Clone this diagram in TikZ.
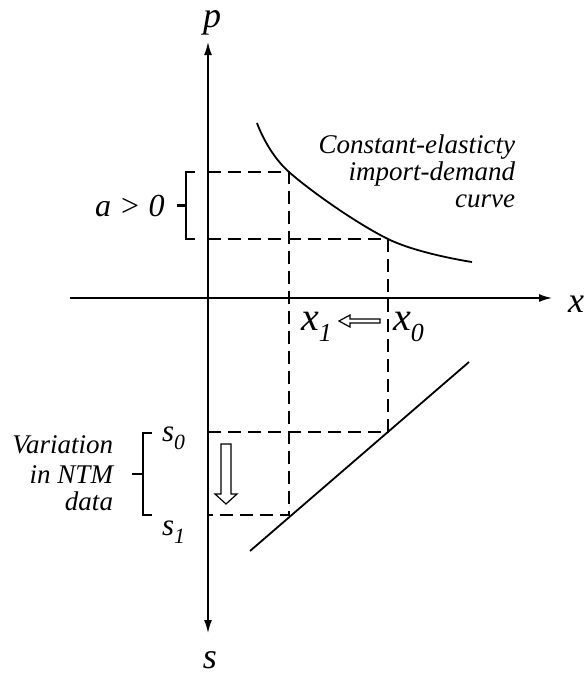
\documentclass[tikz,border=0pt]{standalone}
\usepackage{fontspec}
\setmainfont{Liberation Serif}
\usetikzlibrary{arrows.meta}
\newcommand\lowsub[2][0.6]{\raisebox{-0.28em}{\scalebox{#1}{#2}}}
\newcommand\fs[1]{\fontsize{#1}{#1}\selectfont}
\begin{document}
\begin{tikzpicture}[x=1pt,y=-1pt,
  axisline/.style={line width=1.6pt,{Latex[length=13pt,width=8pt]}-{Latex[length=13pt,width=8pt]}},
  axisx/.style={line width=1.6pt,-{Latex[length=13pt,width=8pt]}},
  guide/.style={line width=2.4pt,dash pattern=on 13pt off 7pt},
  curveline/.style={line width=1.8pt},
  bracketline/.style={line width=2.2pt},
  hollow/.style={line width=1.2pt,fill=white},
  lbl/.style={inner sep=0pt,outer sep=0pt,font=\itshape},
]
\useasboundingbox (0,0) rectangle (587,675);
% axes
\coordinate (O) at (208,298);
\coordinate (ytop) at (208,42);
\coordinate (ybot) at (208,633);
\coordinate (xleft) at (70,298);
\coordinate (xright) at (552,298);
\draw[axisline] (ytop) -- (ybot);
\draw[axisx] (xleft) -- (xright);
% guide corners
\coordinate (A) at (208,172);
\coordinate (P1) at (289,172);
\coordinate (B) at (208,239);
\coordinate (P0) at (388,239);
\coordinate (S0) at (208,432);
\coordinate (Q0) at (388,432);
\coordinate (S1) at (208,515);
\coordinate (Q1) at (289,515);
\draw[guide] (A) -- (P1) -- (Q1) -- (S1);
\draw[guide] (B) -- (P0) -- (Q0) -- (S0);
% demand curve
\draw[curveline] plot[smooth,tension=0.6] coordinates {(257,123) (289,172) (388,239) (472,262)};
% straight line
\coordinate (L1) at (250,551);
\coordinate (L2) at (469,362);
\draw[curveline] (L1) -- (L2);
% brackets
\draw[bracketline] (195,172) -- (186,172) -- (186,239) -- (195,239);
\draw[bracketline] (186,205.5) -- (177,205.5);
\draw[bracketline] (152,433) -- (143,433) -- (143,515) -- (152,515);
\draw[bracketline] (143,474) -- (132,474);
% hollow arrows
\draw[hollow] (221,444) -- (231,444) -- (231,494) -- (237,494) -- (226,504) -- (215,494) -- (221,494) -- cycle;
\draw[hollow] (380,319) -- (350,319) -- (350,315) -- (339,321) -- (350,327) -- (350,323) -- (380,323) -- cycle;
% labels
\node[lbl,font=\itshape\fs{36},anchor=base] (plab) at (212,27) {p};
\node[lbl,font=\itshape\fs{36},anchor=base] (slab) at (210,668) {s};
\node[lbl,font=\itshape\fs{36},anchor=base] (xlab) at (576,312) {x};
\node[lbl,font=\itshape\fs{40},anchor=base west] (x1) at (301,330) {x\lowsub[0.65]{1}};
\node[lbl,font=\itshape\fs{40},anchor=base west] (x0) at (393,330) {x\lowsub[0.65]{0}};
\node[lbl,font=\itshape\fs{31},anchor=base west] (s0) at (162,441) {s\lowsub[0.7]{0}};
\node[lbl,font=\itshape\fs{31},anchor=base west] (s1) at (162,535) {s\lowsub[0.7]{1}};
\node[lbl,font=\itshape\fs{32},anchor=base west] (alab) at (95,216) {a > 0};
\node[lbl,font=\itshape\fs{27},anchor=base east] (c1) at (515,153) {Constant-elasticty};
\node[lbl,font=\itshape\fs{27},anchor=base east] (c2) at (515,180) {import-demand};
\node[lbl,font=\itshape\fs{27},anchor=base east] (c3) at (515,207) {curve};
\node[lbl,font=\itshape\fs{27},anchor=base east] (v1) at (113,453) {Variation};
\node[lbl,font=\itshape\fs{27},anchor=base east] (v2) at (113,483) {in NTM};
\node[lbl,font=\itshape\fs{27},anchor=base east] (v3) at (113,510) {data};
\end{tikzpicture}
\end{document}
